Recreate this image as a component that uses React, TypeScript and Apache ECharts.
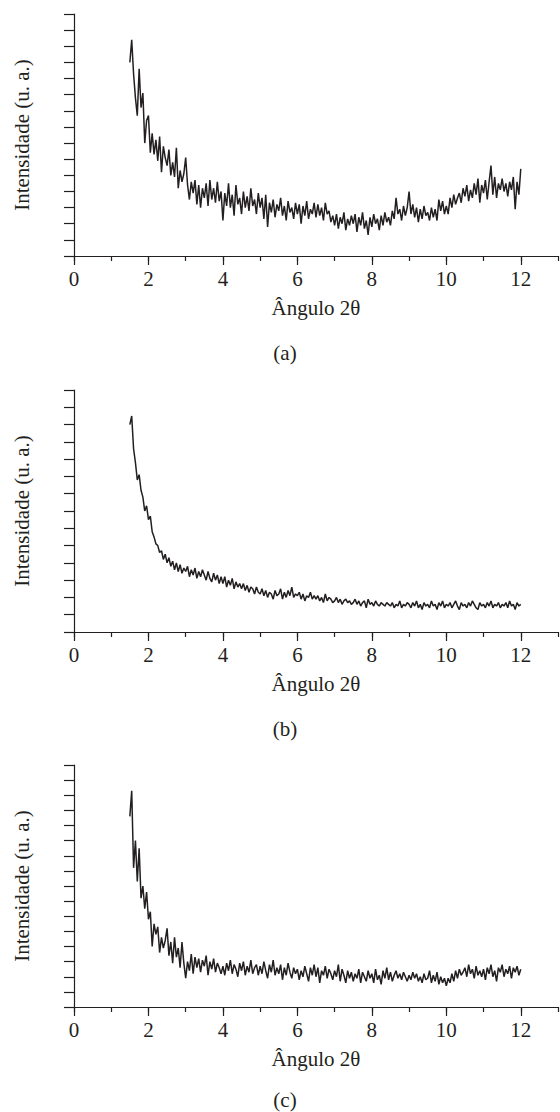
import React, { useEffect, useRef } from "react";
import * as echarts from "echarts";

// Angle 2θ sampling: from 1.5 to 12.0 in steps of 0.05
const angleStart = 1.5;
const angleStep = 0.05;

// Intensity (arbitrary units, in y-tick units)
const intensityA = [
  12.0, 13.4, 11.3, 9.8, 8.7, 11.6, 9.2, 10.1, 7.0, 8.4,
  8.7, 6.4, 7.6, 6.3, 7.2, 5.9, 7.4, 5.2, 6.8, 6.1,
  5.6, 6.6, 5.0, 5.8, 4.9, 6.7, 4.2, 5.3, 4.6, 5.1,
  6.1, 4.4, 3.5, 4.6, 3.9, 4.7, 3.2, 4.4, 3.0, 4.2,
  3.6, 4.5, 3.1, 4.7, 3.5, 4.2, 3.3, 4.6, 3.4, 4.0,
  2.2, 3.9, 3.1, 4.5, 3.0, 3.8, 2.5, 4.4, 3.2, 3.6,
  2.6, 4.0, 3.0, 3.7, 2.8, 4.2, 3.1, 3.5, 2.6, 3.9,
  3.0, 3.6, 2.3, 3.8, 1.8, 3.3, 2.7, 3.5, 2.4, 3.2,
  2.8, 3.6, 2.5, 3.1, 2.2, 3.4, 2.7, 3.0, 2.3, 3.3,
  2.6, 3.2, 2.0, 3.1, 2.5, 3.4, 2.3, 2.9, 2.6, 3.3,
  2.4, 3.2, 2.5, 3.0, 2.2, 3.3, 2.6, 2.8, 2.1, 2.5,
  1.9, 2.6, 1.7, 2.4, 2.0, 2.7, 1.6, 2.3, 1.9, 2.5,
  2.0, 2.6, 1.5, 2.4, 1.9, 2.7, 1.7, 2.2, 1.3, 2.4,
  1.8, 2.6, 2.0, 2.3, 1.6, 2.5, 1.9, 2.7, 2.1, 2.4,
  1.9, 2.8, 2.3, 3.6, 2.6, 2.9, 2.2, 3.1, 2.5, 3.0,
  4.0, 2.6, 3.2, 2.4, 3.0, 2.1, 2.9, 2.3, 3.1, 2.5,
  2.7, 2.2, 3.0, 2.4, 2.9, 2.2, 3.5, 2.8, 3.4, 2.6,
  3.1, 2.6, 3.6, 3.0, 3.8, 3.2, 3.6, 3.9, 3.3, 4.2,
  3.7, 4.4, 3.4, 4.1, 3.6, 4.5, 3.8, 4.8, 3.3, 4.4,
  3.9, 4.7, 3.5, 4.6, 5.6, 3.8, 4.9, 3.6, 4.5, 4.1,
  4.8, 4.0, 4.5, 3.7, 4.6, 4.1, 4.9, 2.9, 4.6, 3.8,
  5.4,
];

const intensityB = [
  12.0, 12.5, 10.6, 9.8, 8.8, 9.1, 8.2, 7.8, 7.0, 7.3,
  6.5, 6.7, 5.8, 5.5, 5.1, 5.0, 4.6, 4.7, 4.2, 4.5,
  4.0, 4.3, 3.8, 4.1, 3.6, 4.0, 3.5, 3.9, 3.4, 3.7,
  3.5, 3.8, 3.2, 3.6, 3.3, 3.7, 3.1, 3.5, 3.2, 3.6,
  3.3, 3.0, 3.5, 3.1, 2.9, 3.4, 3.0, 3.3, 2.8, 3.2,
  2.8, 3.2, 2.6, 3.0, 2.7, 3.1, 2.5, 2.9, 2.6, 2.8,
  2.5, 2.8, 2.4, 2.7, 2.3, 2.6, 2.5, 2.2, 2.6, 2.3,
  2.2, 2.5, 2.1, 2.4, 2.0, 2.3, 2.2, 1.9, 2.4, 2.1,
  2.2, 2.5, 1.9, 2.3, 2.0, 2.4, 2.1, 2.6, 2.0, 2.2,
  2.1, 2.3, 1.9, 2.2, 1.8, 2.1, 2.0, 2.3, 1.9, 2.1,
  1.9, 2.1, 1.8, 2.0, 1.7, 2.2, 1.8, 2.0, 1.9, 1.7,
  1.8, 2.0, 1.7, 1.9, 1.6, 1.8, 1.9, 1.7, 1.8, 1.6,
  1.7, 1.9, 1.6, 1.8, 1.5, 1.7, 1.8, 1.4, 1.9, 1.6,
  1.7, 1.5, 1.8, 1.6, 1.5, 1.7, 1.6, 1.5, 1.7, 1.6,
  1.5, 1.7, 1.4, 1.6, 1.5, 1.8, 1.4, 1.6, 1.5, 1.7,
  1.6, 1.4, 1.7, 1.5, 1.8, 1.4, 1.6, 1.3, 1.7, 1.5,
  1.6, 1.4, 1.8, 1.5, 1.6, 1.3, 1.7, 1.5, 1.8, 1.4,
  1.6, 1.5, 1.7, 1.4, 1.6, 1.8, 1.5, 1.3, 1.7, 1.5,
  1.6, 1.4, 1.7, 1.5, 1.8, 1.6, 1.4, 1.3, 1.7, 1.5,
  1.6, 1.4, 1.7, 1.5, 1.8, 1.4, 1.6, 1.5, 1.7, 1.4,
  1.6, 1.5, 1.7, 1.4, 1.8, 1.5, 1.6, 1.3, 1.7, 1.5,
  1.6,
];

const intensityC = [
  12.6, 14.3, 9.2, 11.0, 8.3, 10.5, 7.2, 8.0, 6.5, 7.6,
  5.8, 6.3, 4.0, 5.5, 4.8, 5.3, 3.6, 4.6, 3.9, 4.4,
  5.2, 3.4, 4.3, 2.9, 4.6, 3.3, 3.9, 2.6, 4.3, 2.9,
  1.9, 3.0, 2.4, 3.5, 2.2, 3.3, 2.6, 3.2, 2.3, 3.1,
  2.7, 3.4, 2.1, 3.0, 2.5, 3.2, 2.3, 2.9, 2.6, 2.2,
  2.7, 2.1, 2.9, 2.4, 3.1, 2.2, 2.8, 2.5, 2.0, 2.9,
  2.4, 3.0, 2.1, 2.7, 2.3, 3.1, 2.2, 2.6, 2.8, 2.1,
  2.7, 2.2, 3.0, 2.4, 1.9, 2.8, 2.3, 3.1, 2.1, 2.6,
  2.2, 2.8, 1.8, 2.6, 2.1, 2.9, 2.3, 1.9, 2.6, 2.2,
  2.5, 1.8, 2.4, 2.0, 2.7, 2.2, 1.7, 2.6, 2.1, 2.8,
  2.0, 2.6, 1.6, 2.4, 2.1, 2.7, 1.9, 2.5, 2.2, 1.8,
  2.4, 2.0, 2.8, 1.7, 2.5, 2.1, 1.6, 2.4, 1.9, 2.3,
  1.7, 2.2, 1.9, 2.5, 1.6, 2.3, 2.0, 1.7, 2.4, 1.9,
  2.2, 1.6, 2.5, 1.8, 2.1, 1.5, 2.4, 1.9, 2.6, 1.8,
  2.3, 1.7, 2.1, 2.4, 1.9, 2.2, 1.8, 2.3, 2.0, 1.7,
  2.1, 1.8, 2.3, 1.9, 2.2, 1.7, 2.0, 1.6, 2.2, 1.8,
  1.9, 2.4, 1.6, 2.1, 1.7, 2.3, 1.5, 2.0, 1.6, 1.9,
  1.4, 1.9, 1.6, 2.2, 1.7, 2.4, 1.9, 2.5, 2.1, 2.3,
  2.6, 2.0, 2.8, 2.2, 2.5, 1.9, 2.7, 2.1, 2.4, 2.0,
  2.5, 1.8, 2.6, 2.2, 2.8, 2.0, 2.4, 1.7, 2.6, 2.3,
  2.8, 2.0, 2.5, 2.2, 2.7, 1.9, 2.6, 2.3, 2.7, 2.1,
  2.5,
];

const xMajorTicks = [0, 2, 4, 6, 8, 10, 12];
const xAllTicks = [0, 1, 2, 3, 4, 5, 6, 7, 8, 9, 10, 11, 12, 13];
const yTickCounts = [15, 14, 16];
const captions = ["(a)", "(b)", "(c)"];
const xTitle = "Ângulo 2θ";
const yTitle = "Intensidade (u. a.)";

const INK = "#231f20";
const FONT = "Liberation Serif";
const FS = 21;

export default function App() {
  const ref = useRef<HTMLDivElement>(null);

  useEffect(() => {
    if (!ref.current) return;
    const chart = echarts.init(ref.current, undefined, { renderer: "svg" });

    const series = [intensityA, intensityB, intensityC];
    const tops = [14, 390, 765];
    const captionY = [353, 729, 1100];
    const plotH = 242;

    const grid: any[] = [];
    const xAxis: any[] = [];
    const yAxis: any[] = [];
    const seriesOpt: any[] = [];
    const graphic: any[] = [];

    series.forEach((vals, i) => {
      grid.push({ left: 74, top: tops[i], width: 484, height: plotH });
      xAxis.push({
        type: "value",
        gridIndex: i,
        min: 0,
        max: 13,
        interval: 1,
        position: "bottom",
        axisLine: { show: true, onZero: false, lineStyle: { color: INK, width: 1.2 } },
        axisTick: { show: true, length: 5, customValues: xAllTicks, lineStyle: { color: INK, width: 1.2 } },
        axisLabel: { show: false },
        splitLine: { show: false },
        name: xTitle,
        nameLocation: "middle",
        nameGap: 41,
        nameTextStyle: { color: INK, fontFamily: FONT, fontSize: FS },
      });
      xAxis.push({
        type: "value",
        gridIndex: i,
        min: 0,
        max: 13,
        interval: 1,
        position: "bottom",
        axisLine: { show: false, onZero: false },
        axisTick: { show: true, length: 9, customValues: xMajorTicks, lineStyle: { color: INK, width: 1.2 } },
        axisLabel: {
          show: true,
          customValues: xMajorTicks,
          margin: 12,
          color: INK,
          fontFamily: FONT,
          fontSize: FS,
        },
        splitLine: { show: false },
      });
      yAxis.push({
        type: "value",
        gridIndex: i,
        min: 0,
        max: yTickCounts[i],
        interval: 1,
        axisLine: { show: true, onZero: false, lineStyle: { color: INK, width: 1.2 } },
        axisTick: { show: true, length: 10, lineStyle: { color: INK, width: 1.2 } },
        axisLabel: { show: false },
        splitLine: { show: false },
        name: yTitle,
        nameLocation: "middle",
        nameRotate: 90,
        nameGap: 42,
        nameTextStyle: { color: INK, fontFamily: FONT, fontSize: FS },
      });
      seriesOpt.push({
        type: "line",
        xAxisIndex: 2 * i,
        yAxisIndex: i,
        showSymbol: false,
        symbol: "none",
        data: vals.map((v, j) => [+(angleStart + j * angleStep).toFixed(2), v]),
        lineStyle: { color: INK, width: 1.5 },
      });
      graphic.push({
        type: "text",
        x: 285,
        y: captionY[i],
        style: {
          text: captions[i],
          fill: INK,
          fontFamily: FONT,
          fontSize: FS,
          textAlign: "center",
          textVerticalAlign: "middle",
        },
      });
    });

    chart.setOption({
      animation: false,
      backgroundColor: "#ffffff",
      grid,
      xAxis,
      yAxis,
      series: seriesOpt,
      graphic,
    });

    return () => chart.dispose();
  }, []);

  return (
    <div
      ref={ref}
      style={{ position: "absolute", left: 0, top: 0, width: 560, height: 1112 }}
    />
  );
}
